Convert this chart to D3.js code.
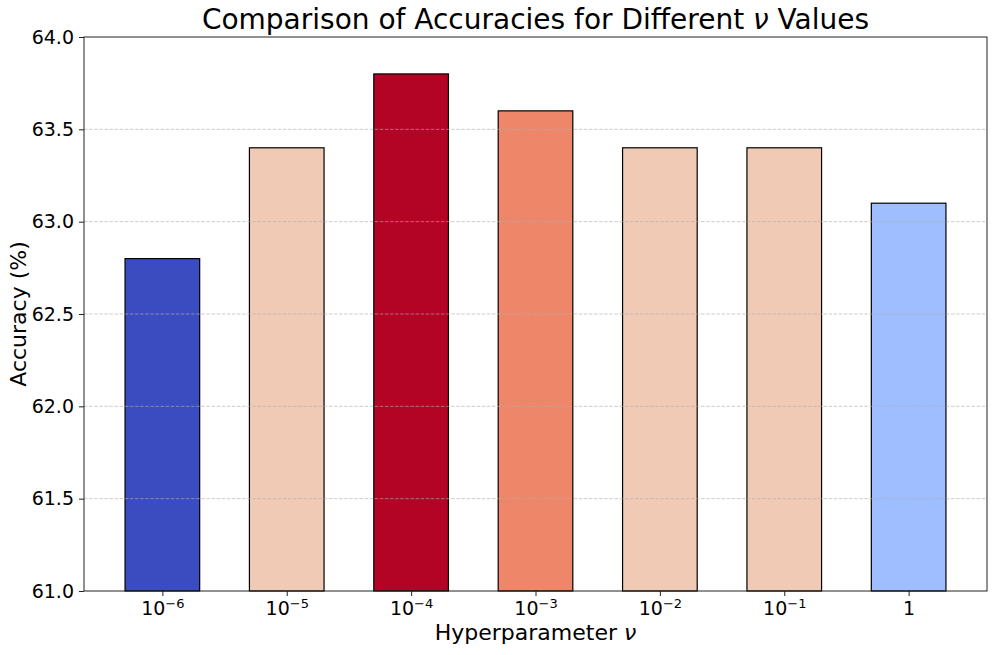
<!DOCTYPE html>
<html><head><meta charset="utf-8">
<script src="https://cdn.jsdelivr.net/npm/d3@7"></script>
<style>body{margin:0;background:#fff}svg{display:block}text{font-family:"DejaVu Sans",sans-serif;fill:#000}</style>
</head><body><svg id="c" width="996" height="655"></svg>
<script>
const categories = ["-6","-5","-4","-3","-2","-1","1"];
const values = [62.8, 63.4, 63.8, 63.6, 63.4, 63.4, 63.1];
const colors = ["#3b4cc0","#f1cab6","#b40426","#ee8669","#f1cab6","#f1cab6","#9ebeff"];
const yTicks = [61.0, 61.5, 62.0, 62.5, 63.0, 63.5, 64.0];
const gridTicks = [61.5, 62.0, 62.5, 63.0, 63.5];

const svg = d3.select("#c");
const L = 84, R = 987, T = 37, B = 591;
const x = d3.scaleLinear().domain([-0.63, 6.63]).range([L, R]);
const y = d3.scaleLinear().domain([61, 64]).range([B, T]);
const bw = x(0.6) - x(0);

svg.append("g").selectAll("rect").data(values).join("rect")
  .attr("x", (d,i) => x(i) - bw/2).attr("width", bw)
  .attr("y", d => y(d)).attr("height", d => y(61) - y(d))
  .attr("fill", (d,i) => colors[i]).attr("stroke", "#000").attr("stroke-width", 1.2);

svg.append("g").selectAll("line").data(gridTicks).join("line")
  .attr("x1", L).attr("x2", R).attr("y1", d => y(d)).attr("y2", d => y(d))
  .attr("stroke", "#b0b0b0").attr("stroke-opacity", 0.7).attr("stroke-width", 0.9)
  .attr("stroke-dasharray", "3.5,1.6");

// frame
svg.append("rect").attr("x", L).attr("y", T).attr("width", R-L).attr("height", B-T)
  .attr("fill", "none").attr("stroke", "#222").attr("stroke-width", 1);

// y axis
const ya = svg.append("g").attr("transform", `translate(${L},0)`)
  .call(d3.axisLeft(y).tickValues(yTicks).tickFormat(d3.format(".1f")).tickSize(5).tickPadding(5));
ya.select(".domain").remove();
ya.selectAll("line").attr("stroke", "#222");
ya.selectAll("text").attr("font-size", 19).attr("font-family", "DejaVu Sans").attr("fill","#000");

// x axis
const xa = svg.append("g").attr("transform", `translate(0,${B})`)
  .call(d3.axisBottom(x).tickValues(d3.range(categories.length)).tickFormat("").tickSize(5));
xa.select(".domain").remove();
xa.selectAll("line").attr("stroke", "#222");
xa.selectAll(".tick").each(function(d, i) {
  const t = d3.select(this).append("text").attr("y", 24).attr("text-anchor", "middle")
    .attr("font-size", 19).attr("fill", "#000");
  const c = categories[i];
  if (c === "1") { t.text("1"); }
  else {
    t.append("tspan").text("10");
    t.append("tspan").attr("dy", -7).attr("font-size", 13).text("\u2212" + c.slice(1));
  }
});

svg.append("text").attr("x", (L+R)/2).attr("y", 29).attr("text-anchor", "middle")
  .attr("font-size", 28)
  .call(t => { t.append("tspan").text("Comparison of Accuracies for Different ");
               t.append("tspan").attr("font-style", "italic").text("\u03bd");
               t.append("tspan").text(" Values"); });
svg.append("text").attr("x", (L+R)/2).attr("y", 640).attr("text-anchor", "middle")
  .attr("font-size", 22)
  .call(t => { t.append("tspan").text("Hyperparameter ");
               t.append("tspan").attr("font-style", "italic").text("\u03bd"); });
svg.append("text").attr("transform", `translate(26,${(T+B)/2}) rotate(-90)`).attr("text-anchor", "middle")
  .attr("font-size", 22).text("Accuracy (%)");
</script></body></html>
